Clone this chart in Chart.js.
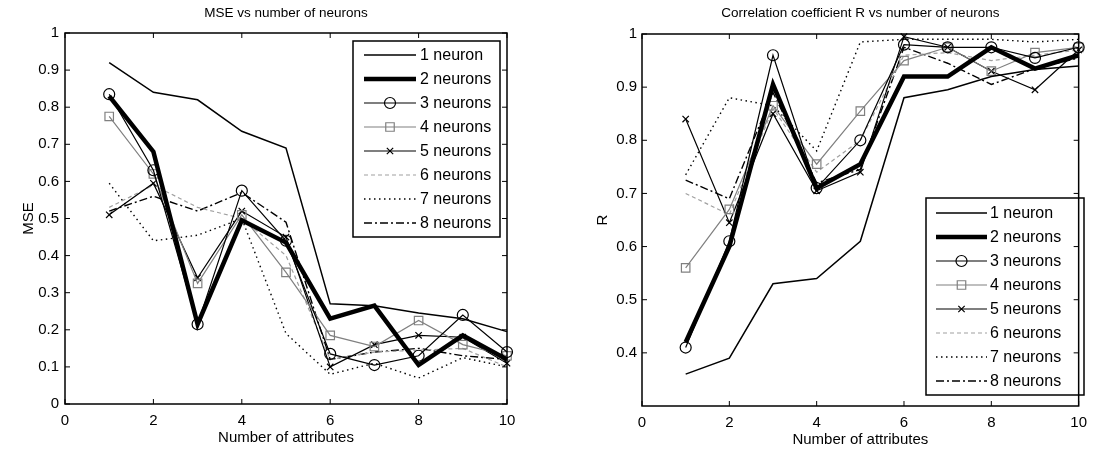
<!DOCTYPE html>
<html>
<head>
<meta charset="utf-8">
<script src="https://cdn.jsdelivr.net/npm/chart.js@4.4.0/dist/chart.umd.min.js"></script>
<style>
  body{margin:0;background:#fff;width:1095px;height:453px;overflow:hidden;position:relative}
  canvas{position:absolute;top:0}
  #mse{left:0}
  #corr{left:547px}
</style>
</head>
<body>
<canvas id="mse" width="547" height="453"></canvas>
<canvas id="corr" width="548" height="453"></canvas>
<script>
/* ===== Data ===== */
const attributes = [1,2,3,4,5,6,7,8,9,10];
const neuronLabels = ['1 neuron','2 neurons','3 neurons','4 neurons','5 neurons','6 neurons','7 neurons','8 neurons'];

// MSE vs number of attributes
const mse1 = [0.92,0.84,0.82,0.735,0.69,0.27,0.265,0.245,0.23,0.195];
const mse2 = [0.83,0.68,0.215,0.495,0.435,0.23,0.265,0.105,0.185,0.12];
const mse3 = [0.835,0.63,0.215,0.575,0.44,0.135,0.105,0.13,0.24,0.14];
const mse4 = [0.775,0.62,0.325,0.51,0.355,0.185,0.155,0.225,0.16,0.13];
const mse5 = [0.51,0.595,0.34,0.52,0.45,0.10,0.16,0.185,0.18,0.11];
const mse6 = [0.53,0.59,0.53,0.50,0.40,0.12,0.14,0.145,0.15,0.10];
const mse7 = [0.595,0.44,0.455,0.50,0.19,0.08,0.11,0.07,0.125,0.10];
const mse8 = [0.52,0.56,0.52,0.57,0.49,0.12,0.14,0.15,0.13,0.12];

// Correlation coefficient R vs number of attributes
const r1 = [0.36,0.39,0.53,0.54,0.61,0.88,0.895,0.92,0.933,0.94];
const r2 = [0.42,0.60,0.905,0.71,0.755,0.92,0.92,0.975,0.935,0.96];
const r3 = [0.41,0.61,0.96,0.71,0.80,0.98,0.975,0.975,0.955,0.975];
const r4 = [0.56,0.67,0.865,0.755,0.855,0.95,0.975,0.93,0.965,0.975];
const r5 = [0.84,0.645,0.85,0.705,0.74,0.995,0.975,0.93,0.895,0.97];
const r6 = [0.70,0.66,0.86,0.74,0.80,0.96,0.965,0.95,0.96,0.97];
const r7 = [0.735,0.88,0.865,0.78,0.985,0.99,0.99,0.99,0.985,0.99];
const r8 = [0.725,0.69,0.89,0.72,0.745,0.975,0.945,0.905,0.935,0.955];

const xTicks = [0,2,4,6,8,10];
const mseTicks = [0,0.1,0.2,0.3,0.4,0.5,0.6,0.7,0.8,0.9,1];
const rTicks = [0.4,0.5,0.6,0.7,0.8,0.9,1];

/* ===== Line styles (one per neuron count) ===== */
const styles = [
  {color:'#000', width:1.5, dash:[],        marker:false},
  {color:'#000', width:4.5, dash:[],        marker:false},
  {color:'#000', width:1.2, dash:[],        marker:'circle',   r:5.5},
  {color:'#808080', width:1.2, dash:[],     marker:'rect',     r:6},
  {color:'#000', width:1.2, dash:[],        marker:'crossRot', r:4.5},
  {color:'#a0a0a0', width:1.2, dash:[4,3],  marker:false},
  {color:'#000', width:1.4, dash:[1.5,3.5], marker:false},
  {color:'#000', width:1.4, dash:[8,3,2,3], marker:false}
];

const FONT = '"Liberation Sans", Arial, sans-serif';

function makeSets(series){
  return series.map((vals,i)=>{
    const s = styles[i];
    return {
      label: neuronLabels[i],
      data: attributes.map((x,j)=>({x, y: vals[j]})),
      borderColor: s.color, borderWidth: s.width, borderDash: s.dash,
      pointStyle: s.marker || 'circle', pointRadius: s.marker ? s.r : 0,
      pointBorderColor: s.color, pointBackgroundColor: 'rgba(0,0,0,0)', pointBorderWidth: 1.2,
      tension: 0, fill: false, clip: false
    };
  });
}

function drawMarker(ctx, style, x, y, r, color){
  ctx.strokeStyle = color; ctx.lineWidth = 1.2; ctx.setLineDash([]);
  ctx.beginPath();
  if(style==='circle'){ ctx.arc(x,y,r,0,Math.PI*2); }
  else if(style==='rect'){ const s=r*Math.SQRT1_2; ctx.rect(x-s,y-s,2*s,2*s); }
  else if(style==='crossRot'){ const s=r*Math.SQRT1_2; ctx.moveTo(x-s,y-s); ctx.lineTo(x+s,y+s); ctx.moveTo(x+s,y-s); ctx.lineTo(x-s,y+s); }
  ctx.stroke();
}

/* ===== Plugins: legend box, MATLAB style frame, title ===== */
const legendBox = {
  id:'legendBox',
  afterDatasetsDraw(chart, args, o){
    const ctx = chart.ctx;
    ctx.save();
    ctx.fillStyle='#fff'; ctx.fillRect(o.x,o.y,o.w,o.h);
    ctx.strokeStyle='#000'; ctx.lineWidth=1.5; ctx.setLineDash([]);
    ctx.strokeRect(o.x,o.y,o.w,o.h);
    chart.data.datasets.forEach((d,i)=>{
      const y = o.y0 + i*o.step;
      ctx.strokeStyle=d.borderColor; ctx.lineWidth=d.borderWidth; ctx.setLineDash(d.borderDash||[]);
      ctx.beginPath(); ctx.moveTo(o.x0,y); ctx.lineTo(o.x1,y); ctx.stroke();
      if(d.pointRadius) drawMarker(ctx, d.pointStyle, (o.x0+o.x1)/2, y, d.pointRadius, d.pointBorderColor);
      ctx.setLineDash([]);
      ctx.fillStyle='#000'; ctx.font='16px '+FONT; ctx.textBaseline='middle'; ctx.textAlign='left';
      ctx.fillText(d.label, o.tx, y+1);
    });
    ctx.restore();
  }
};

const frame = {
  id:'frame',
  afterDraw(chart){
    const {ctx, chartArea:a, scales:{x, y}} = chart;
    ctx.save();
    ctx.strokeStyle='#000'; ctx.lineWidth=1.5; ctx.setLineDash([]);
    ctx.strokeRect(a.left, a.top, a.right-a.left, a.bottom-a.top);
    ctx.lineWidth=1;
    ctx.beginPath();
    x.ticks.forEach(t=>{ const px=x.getPixelForValue(t.value);
      ctx.moveTo(px,a.bottom); ctx.lineTo(px,a.bottom-5); ctx.moveTo(px,a.top); ctx.lineTo(px,a.top+5); });
    y.ticks.forEach(t=>{ const py=y.getPixelForValue(t.value);
      ctx.moveTo(a.left,py); ctx.lineTo(a.left+5,py); ctx.moveTo(a.right,py); ctx.lineTo(a.right-5,py); });
    ctx.stroke();
    ctx.restore();
  }
};

const topTitle = {
  id:'topTitle',
  afterDraw(chart, args, o){
    const {ctx, chartArea:a} = chart;
    ctx.save();
    ctx.fillStyle='#000'; ctx.font='13.5px '+FONT; ctx.textAlign='center'; ctx.textBaseline='middle';
    ctx.fillText(o.text, (a.left+a.right)/2, o.y);
    ctx.restore();
  }
};

const fmt = v => String(+(+v).toFixed(2));

function makeChart(id, series, cfg){
  return new Chart(document.getElementById(id), {
    type:'line',
    data:{ datasets: makeSets(series) },
    options:{
      responsive:false, animation:false,
      layout:{ padding:{ left:0, top:cfg.top, right:cfg.right, bottom:0 } },
      plugins:{
        legend:{display:false}, tooltip:{enabled:false},
        legendBox: cfg.legend,
        topTitle: {text: cfg.title, y: 13}
      },
      scales:{
        x:{
          type:'linear', min:0, max:10,
          afterBuildTicks: s => { s.ticks = xTicks.map(v=>({value:v})); },
          afterFit: s => { s.height = cfg.xh; },
          grid:{display:false, drawTicks:false}, border:{display:false},
          ticks:{ color:'#000', font:{family:FONT, size:15}, padding:cfg.xpad, maxRotation:0, callback: fmt },
          title:{ display:true, text:'Number of attributes', color:'#000', font:{family:FONT, size:15}, padding:{top:0, bottom:cfg.xtp} }
        },
        y:{
          min:cfg.ymin, max:cfg.ymax,
          afterBuildTicks: s => { s.ticks = cfg.yTicks.map(v=>({value:v})); },
          afterFit: s => { s.width = cfg.yw; },
          grid:{display:false, drawTicks:false}, border:{display:false},
          ticks:{ color:'#000', font:{family:FONT, size:15}, padding:cfg.ypad, callback: fmt },
          title:{ display:true, text:cfg.ylabel, color:'#000', font:{family:FONT, size:15}, padding:{top:cfg.ytp, bottom:0} }
        }
      }
    },
    plugins:[legendBox, frame, topTitle]
  });
}

makeChart('mse', [mse1,mse2,mse3,mse4,mse5,mse6,mse7,mse8], {
  title:'MSE vs number of neurons', ylabel:'MSE',
  ymin:0, ymax:1, yTicks:mseTicks,
  top:33, right:40, xh:49, yw:65, xpad:8, ypad:6, xtp:6, ytp:20,
  legend:{x:353, y:41, w:147, h:196, y0:55, step:24, x0:364, x1:416, tx:420}
});

makeChart('corr', [r1,r2,r3,r4,r5,r6,r7,r8], {
  title:'Correlation coefficient R vs number of neurons', ylabel:'R',
  ymin:0.3, ymax:1, yTicks:rTicks,
  top:34, right:7, xh:47, yw:95, xpad:8, ypad:5, xtp:4, ytp:47,
  legend:{x:379, y:198, w:158, h:197, y0:213, step:24, x0:389, x1:440, tx:443}
});
</script>
</body>
</html>
